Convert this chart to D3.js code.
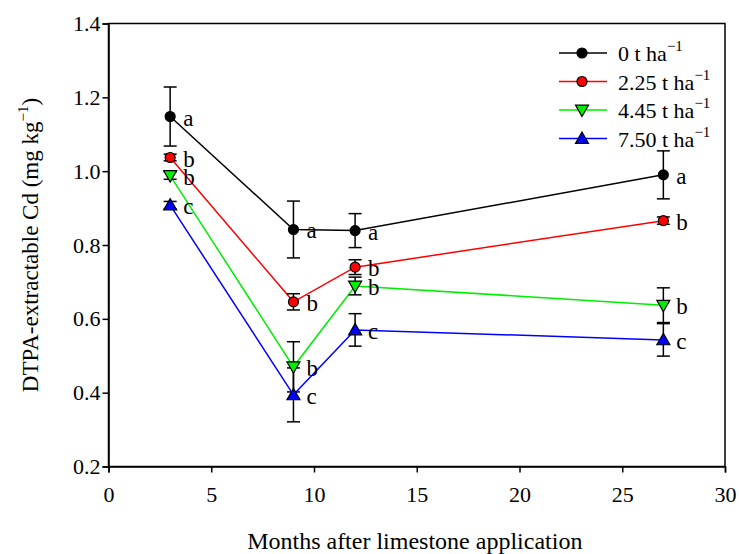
<!DOCTYPE html>
<meta charset="UTF-8">
<style>
body { margin: 0; background: #fff; }
.axis path, .axis line { stroke: #000; stroke-width: 1.5px; }
</style>
<body>
<div class="chart"></div>
<script src="https://d3js.org/d3.v7.min.js"></script>
<script>
// data
var months = [3, 9, 12, 27];
var names = ["0", "2.25", "4.45", "7.50"];
var mean0   = [1.148, 0.842, 0.839, 0.990];
var err0    = [0.080, 0.077, 0.046, 0.065];
var mean225 = [1.037, 0.646, 0.740, 0.866];
var err225  = [0.009, 0.022, 0.020, 0.010];
var mean445 = [0.988, 0.470, 0.689, 0.637];
var err445  = [0.010, 0.068, 0.024, 0.047];
var mean750 = [0.908, 0.394, 0.570, 0.543];
var err750  = [0.010, 0.073, 0.044, 0.044];
var letters0   = ["a", "a", "a", "a"];
var letters225 = ["b", "b", "b", "b"];
var letters445 = ["b", "b", "b", "b"];
var letters750 = ["c", "c", "c", "c"];
var xTicks = [0, 5, 10, 15, 20, 25, 30];
var yTicks = [0.2, 0.4, 0.6, 0.8, 1.0, 1.2, 1.4];

var colors = ["#000000", "#ff0000", "#00ee00", "#0000ff"];
var shapes = ["circle", "circle", "down", "up"];
var serif = "Liberation Serif";

var series = [
  {name: names[0], mean: mean0, err: err0, letters: letters0},
  {name: names[1], mean: mean225, err: err225, letters: letters225},
  {name: names[2], mean: mean445, err: err445, letters: letters445},
  {name: names[3], mean: mean750, err: err750, letters: letters750}
];

var width = 739, height = 554;
var pLeft = 108.5, pRight = 725, pTop = 23.5, pBottom = 466.5;

var svg = d3.select(".chart").append("svg")
  .attr("width", width)
  .attr("height", height);

var x = d3.scaleLinear().domain([0, 30]).range([pLeft, pRight]);
var y = d3.scaleLinear().domain([0.2, 1.4]).range([pBottom, pTop]);

// frame
svg.append("rect")
  .attr("x", pLeft).attr("y", pTop)
  .attr("width", pRight - pLeft).attr("height", pBottom - pTop)
  .attr("fill", "none").attr("stroke", "#000").attr("stroke-width", 1.5);

var xg = svg.append("g").attr("class", "axis")
  .attr("transform", "translate(0," + pBottom + ")")
  .call(d3.axisBottom(x).tickValues(xTicks).tickSizeOuter(0).tickSize(6).tickPadding(14));

var yg = svg.append("g").attr("class", "axis")
  .attr("transform", "translate(" + pLeft + ",0)")
  .call(d3.axisLeft(y).tickValues(yTicks).tickFormat(d3.format(".1f")).tickSizeOuter(0).tickSize(6).tickPadding(2));

[xg, yg].forEach(function (g) {
  g.attr("font-family", serif).attr("font-size", 22);
  g.selectAll("text").attr("fill", "#000");
});

// axis titles
svg.append("text")
  .attr("x", (pLeft + pRight) / 2 - 2)
  .attr("y", 549)
  .attr("text-anchor", "middle")
  .attr("font-family", serif)
  .attr("font-size", 24)
  .text("Months after limestone application");

var yt = svg.append("text")
  .attr("transform", "translate(38," + ((pTop + pBottom) / 2) + ") rotate(-90)")
  .attr("text-anchor", "middle")
  .attr("font-family", serif)
  .attr("font-size", 23);
yt.append("tspan").text("DTPA-extractable Cd (mg kg");
yt.append("tspan").attr("dy", -10).attr("font-size", 15).text("\u22121");
yt.append("tspan").attr("dy", 10).text(")");

function marker(sel, shape, color) {
  if (shape === "circle") {
    sel.append("circle").attr("r", 5)
      .attr("fill", color).attr("stroke", "#000").attr("stroke-width", 1.2);
  } else {
    var s = 6.5;
    var pts = shape === "up"
      ? [[0, -s], [s, s * 0.75], [-s, s * 0.75]]
      : [[0, s], [s, -s * 0.75], [-s, -s * 0.75]];
    sel.append("path").attr("d", d3.line()(pts) + "Z")
      .attr("fill", color).attr("stroke", "#000").attr("stroke-width", 1.2);
  }
}

var line = d3.line().x(function (d) { return x(d.m); }).y(function (d) { return y(d.v); });

series.forEach(function (s, i) {
  var pts = months.map(function (m, j) { return {m: m, v: s.mean[j], e: s.err[j], l: s.letters[j]}; });
  var g = svg.append("g");
  g.append("path").datum(pts).attr("d", line)
    .attr("fill", "none").attr("stroke", colors[i]).attr("stroke-width", 1.5);
  var eb = g.selectAll(".eb").data(pts).enter().append("g");
  eb.append("line")
    .attr("x1", function (d) { return x(d.m); }).attr("x2", function (d) { return x(d.m); })
    .attr("y1", function (d) { return y(d.v + d.e); }).attr("y2", function (d) { return y(d.v - d.e); })
    .attr("stroke", "#000").attr("stroke-width", 1.5);
  [1, -1].forEach(function (sg) {
    eb.append("line")
      .attr("x1", function (d) { return x(d.m) - 6.5; }).attr("x2", function (d) { return x(d.m) + 6.5; })
      .attr("y1", function (d) { return y(d.v + sg * d.e); }).attr("y2", function (d) { return y(d.v + sg * d.e); })
      .attr("stroke", "#000").attr("stroke-width", 1.5);
  });
});

series.forEach(function (s, i) {
  months.forEach(function (m, j) {
    var p = svg.append("g").attr("transform", "translate(" + x(m) + "," + y(s.mean[j]) + ")");
    marker(p, shapes[i], colors[i]);
    svg.append("text")
      .attr("x", x(m) + 13).attr("y", y(s.mean[j]) + 9)
      .attr("font-family", serif)
      .attr("font-size", 23)
      .text(s.letters[j]);
  });
});

// legend
var lg = svg.append("g").attr("transform", "translate(559,53)");
series.forEach(function (s, i) {
  var r = lg.append("g").attr("transform", "translate(0," + (i * 28.5) + ")");
  r.append("line").attr("x1", 0).attr("x2", 48)
    .attr("stroke", colors[i]).attr("stroke-width", 1.5);
  marker(r.append("g").attr("transform", "translate(23,0)"), shapes[i], colors[i]);
  var t = r.append("text").attr("x", 59).attr("y", 8)
    .attr("font-family", serif).attr("font-size", 22);
  t.append("tspan").text(s.name + " t ha");
  t.append("tspan").attr("dy", -10).attr("font-size", 15).text("\u22121");
});
</script>
</body>
